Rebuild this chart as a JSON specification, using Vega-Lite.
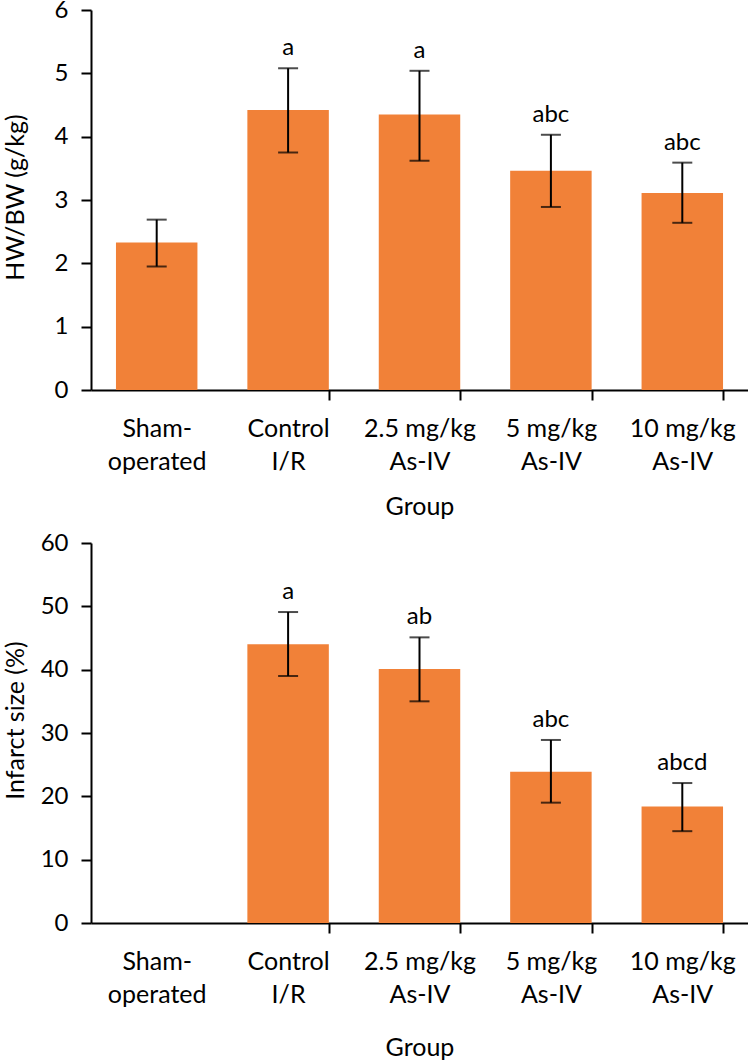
{
  "$schema": "https://vega.github.io/schema/vega-lite/v6.json",
  "padding": {"left": 3, "top": -2, "right": 0, "bottom": 0},
  "spacing": 12,
  "config": {
    "view": {"stroke": null},
    "axis": {
      "domainColor": "black", "domainWidth": 2,
      "tickColor": "black", "tickWidth": 2, "tickSize": 10,
      "labelFont": "Lato", "labelFontSize": 25, "labelColor": "black",
      "titleFont": "Lato", "titleFontSize": 25, "titleFontWeight": "normal", "titleColor": "black",
      "grid": false
    }
  },
  "datasets": {
    "hw": [
      {"group": "Sham-operated", "value": 2.33, "lower": 1.95, "upper": 2.69, "sig": ""},
      {"group": "Control I/R", "value": 4.42, "lower": 3.75, "upper": 5.08, "sig": "a"},
      {"group": "2.5 mg/kg As-IV", "value": 4.35, "lower": 3.62, "upper": 5.04, "sig": "a"},
      {"group": "5 mg/kg As-IV", "value": 3.46, "lower": 2.89, "upper": 4.03, "sig": "abc"},
      {"group": "10 mg/kg As-IV", "value": 3.11, "lower": 2.64, "upper": 3.59, "sig": "abc"}
    ],
    "inf": [
      {"group": "Sham-operated", "value": 0, "lower": null, "upper": null, "sig": ""},
      {"group": "Control I/R", "value": 44.0, "lower": 39.0, "upper": 49.1, "sig": "a"},
      {"group": "2.5 mg/kg As-IV", "value": 40.1, "lower": 35.0, "upper": 45.1, "sig": "ab"},
      {"group": "5 mg/kg As-IV", "value": 23.9, "lower": 19.0, "upper": 28.9, "sig": "abc"},
      {"group": "10 mg/kg As-IV", "value": 18.4, "lower": 14.5, "upper": 22.1, "sig": "abcd"}
    ]
  },
  "vconcat": [
    {
      "width": 657, "height": 380,
      "data": {"name": "hw"},
      "encoding": {
        "x": {
          "field": "group", "type": "nominal", "sort": null,
          "scale": {"paddingInner": 0.38, "paddingOuter": 0.19},
          "axis": {
            "title": "Group", "labelAngle": 0, "tickBand": "extent",
            "labelPadding": 16, "labelLineHeight": 33, "titlePadding": 20,
            "tickOpacity": {"condition": {"test": "datum.value == 'Sham-operated' || !isValid(datum.value) || datum.extra", "value": 0}, "value": 1},
            "labelExpr": "!isValid(datum.value) ? '' : datum.value == 'Sham-operated' ? ['Sham-', 'operated'] : datum.value == 'Control I/R' ? ['Control', 'I/R'] : [replace(datum.value, ' As-IV', ''), 'As-IV']"
          }
        }
      },
      "layer": [
        {
          "mark": {"type": "bar", "color": "#F18138"},
          "encoding": {
            "y": {
              "field": "value", "type": "quantitative", "title": "HW/BW (g/kg)",
              "scale": {"domain": [0, 6], "nice": false},
              "axis": {"values": [0, 1, 2, 3, 4, 5, 6], "format": "d", "labelFontSize": 24, "labelPadding": 13, "titleX": -76, "titleY": 187, "titleBaseline": "middle", "titleAlign": "center"}
            }
          }
        },
        {
          "mark": {"type": "rule", "color": "black", "strokeWidth": 2},
          "encoding": {
            "y": {"field": "lower", "type": "quantitative", "title": "HW/BW (g/kg)"},
            "y2": {"field": "upper"}
          }
        },
        {
          "mark": {"type": "tick", "color": "black", "size": 20, "thickness": 2},
          "encoding": {"y": {"field": "upper", "type": "quantitative", "title": "HW/BW (g/kg)"}}
        },
        {
          "mark": {"type": "tick", "color": "black", "size": 20, "thickness": 2},
          "encoding": {"y": {"field": "lower", "type": "quantitative", "title": "HW/BW (g/kg)"}}
        },
        {
          "mark": {"type": "text", "font": "Lato", "fontSize": 24, "color": "black", "baseline": "alphabetic", "dy": -13},
          "encoding": {
            "y": {"field": "upper", "type": "quantitative", "title": "HW/BW (g/kg)"},
            "text": {"field": "sig"}
          }
        }
      ]
    },
    {
      "width": 657, "height": 380,
      "data": {"name": "inf"},
      "encoding": {
        "x": {
          "field": "group", "type": "nominal", "sort": null,
          "scale": {"paddingInner": 0.38, "paddingOuter": 0.19},
          "axis": {
            "title": "Group", "labelAngle": 0, "tickBand": "extent",
            "labelPadding": 16, "labelLineHeight": 33, "titlePadding": 28,
            "tickOpacity": {"condition": {"test": "datum.value == 'Sham-operated' || !isValid(datum.value) || datum.extra", "value": 0}, "value": 1},
            "labelExpr": "!isValid(datum.value) ? '' : datum.value == 'Sham-operated' ? ['Sham-', 'operated'] : datum.value == 'Control I/R' ? ['Control', 'I/R'] : [replace(datum.value, ' As-IV', ''), 'As-IV']"
          }
        }
      },
      "layer": [
        {
          "mark": {"type": "bar", "color": "#F18138"},
          "encoding": {
            "y": {
              "field": "value", "type": "quantitative", "title": "Infarct size (%)",
              "scale": {"domain": [0, 60], "nice": false},
              "axis": {"values": [0, 10, 20, 30, 40, 50, 60], "format": "d", "labelFontSize": 24, "labelPadding": 13, "titleX": -76, "titleY": 177, "titleBaseline": "middle", "titleAlign": "center"}
            }
          }
        },
        {
          "mark": {"type": "rule", "color": "black", "strokeWidth": 2},
          "encoding": {
            "y": {"field": "lower", "type": "quantitative", "title": "Infarct size (%)"},
            "y2": {"field": "upper"}
          }
        },
        {
          "mark": {"type": "tick", "color": "black", "size": 20, "thickness": 2},
          "encoding": {"y": {"field": "upper", "type": "quantitative", "title": "Infarct size (%)"}}
        },
        {
          "mark": {"type": "tick", "color": "black", "size": 20, "thickness": 2},
          "encoding": {"y": {"field": "lower", "type": "quantitative", "title": "Infarct size (%)"}}
        },
        {
          "mark": {"type": "text", "font": "Lato", "fontSize": 24, "color": "black", "baseline": "alphabetic", "dy": -13},
          "encoding": {
            "y": {"field": "upper", "type": "quantitative", "title": "Infarct size (%)"},
            "text": {"field": "sig"}
          }
        }
      ]
    }
  ]
}
